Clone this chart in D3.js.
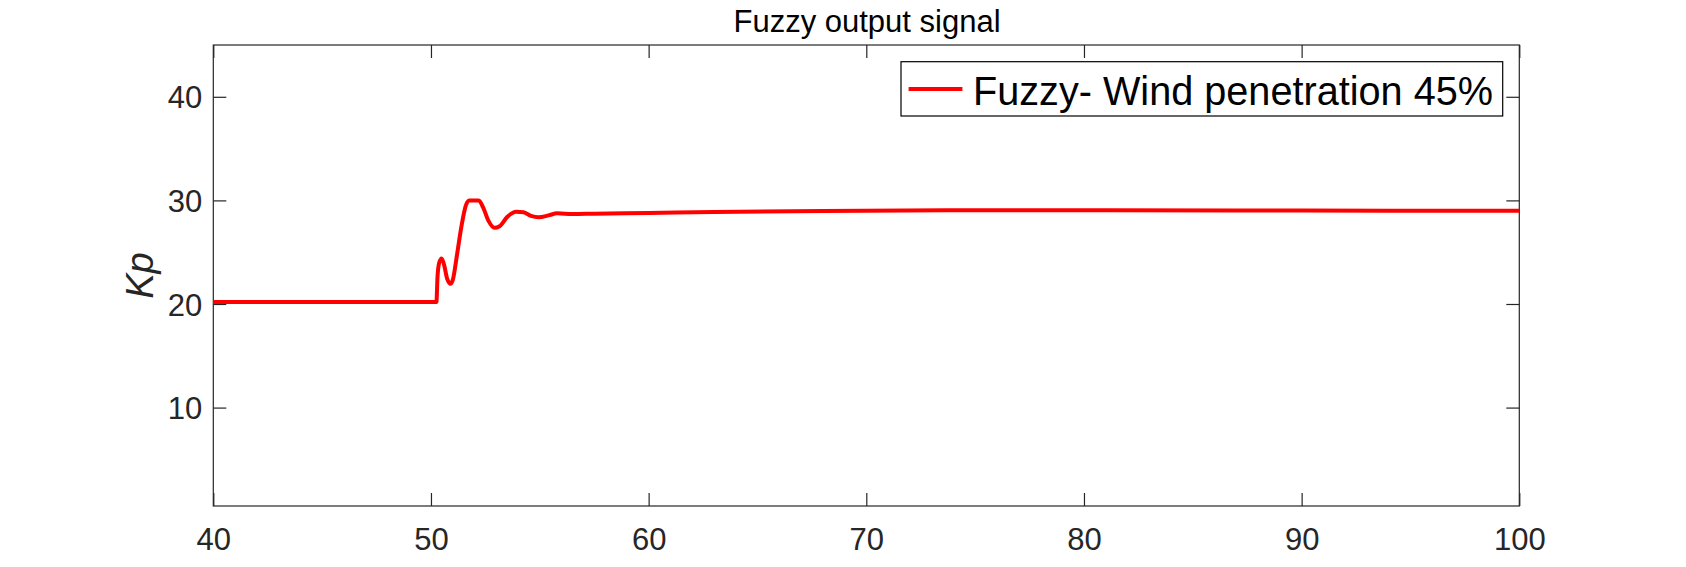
<!DOCTYPE html>
<html>
<head>
<meta charset="utf-8">
<script src="https://cdn.jsdelivr.net/npm/d3@7/dist/d3.min.js"></script>
<style>
  html, body { margin: 0; padding: 0; background: #fff; }
  svg { display: block; }
  text { font-family: "Liberation Sans", Arial, Helvetica, sans-serif; }
</style>
</head>
<body>
<svg id="chart" width="1686" height="567"></svg>
<script>
// ---- data ----
const timeValues = [40, 50.25, 50.3, 50.38, 50.49, 50.6, 50.75, 50.9, 51.0, 51.2, 51.4, 51.6, 51.75, 52.2, 52.4, 52.65, 52.92, 53.15, 53.5, 53.92, 54.25, 54.6, 54.95, 55.4, 55.8, 56.5, 57.5, 60, 63, 68, 75, 81, 87, 94, 100];
const kpValues   = [20.2, 20.2, 22.6, 24.0, 24.4, 23.8, 22.4, 21.95, 22.3, 24.8, 27.5, 29.5, 30.0, 30.0, 29.3, 28.0, 27.35, 27.5, 28.4, 28.9, 28.85, 28.5, 28.37, 28.55, 28.75, 28.68, 28.72, 28.78, 28.88, 28.98, 29.05, 29.05, 29.03, 29.01, 29.0];
const xTicks = [40, 50, 60, 70, 80, 90, 100];
const yTicks = [10, 20, 30, 40];
const xDomain = [40, 100];
const yDomain = [0.5, 45];
const seriesName = "Fuzzy- Wind penetration 45%";
const titleText = "Fuzzy output signal";
const yLabel = "Kp";

// ---- layout ----
const L = 213.3, R = 1519.3, T = 45, B = 506;
const axisColor = "#262626";
const svg = d3.select("#chart");

const x = d3.scaleLinear().domain(xDomain).range([L, R]);
const y = d3.scaleLinear().domain(yDomain).range([B, T]);

// box
svg.append("rect").attr("x", L).attr("y", T).attr("width", R - L).attr("height", B - T)
  .attr("fill", "#fff").attr("stroke", axisColor).attr("stroke-width", 1.2);

const tickLen = 13;
const gxb = svg.append("g").attr("transform", `translate(0,${B})`)
  .call(d3.axisBottom(x).tickValues(xTicks).tickSizeInner(-tickLen).tickSizeOuter(0).tickPadding(22));
const gxt = svg.append("g").attr("transform", `translate(0,${T})`)
  .call(d3.axisTop(x).tickValues(xTicks).tickSizeInner(-tickLen).tickSizeOuter(0).tickFormat(""));
const gyl = svg.append("g").attr("transform", `translate(${L},0)`)
  .call(d3.axisLeft(y).tickValues(yTicks).tickSizeInner(-tickLen).tickSizeOuter(0).tickPadding(11));
const gyr = svg.append("g").attr("transform", `translate(${R},0)`)
  .call(d3.axisRight(y).tickValues(yTicks).tickSizeInner(-tickLen).tickSizeOuter(0).tickFormat(""));

[gxb, gxt, gyl, gyr].forEach(g => {
  g.select(".domain").remove();
  g.selectAll(".tick line").attr("stroke", axisColor).attr("stroke-width", 1.2);
  g.selectAll(".tick text").attr("fill", axisColor)
    .style("font-size", "31px").style("font-family", '"Liberation Sans", Arial, sans-serif');
});
gxb.selectAll(".tick text").attr("dy", "0.71em");
gyl.selectAll(".tick text").attr("dy", "0.36em");

// line
const line = d3.line()
  .x((d, i) => x(timeValues[i]))
  .y(d => y(d))
  .curve(d3.curveMonotoneX);
svg.append("path").datum(kpValues)
  .attr("d", line).attr("fill", "none")
  .attr("stroke", "#ff0000").attr("stroke-width", 4).attr("stroke-linejoin", "round");

// title
svg.append("text").attr("x", 867).attr("y", 32).attr("text-anchor", "middle")
  .style("font-size", "31px").attr("fill", "#000").text(titleText);

// y label
svg.append("text").attr("transform", "translate(153,275.5) rotate(-90)")
  .attr("text-anchor", "middle").style("font-size", "38px").style("font-style", "italic")
  .attr("fill", axisColor).text(yLabel);

// legend
const lg = svg.append("g");
lg.append("rect").attr("x", 901).attr("y", 61.7).attr("width", 601.7).attr("height", 54.3)
  .attr("fill", "#fff").attr("stroke", "#000").attr("stroke-width", 1.2);
lg.append("line").attr("x1", 908.6).attr("x2", 962.4).attr("y1", 89).attr("y2", 89)
  .attr("stroke", "#ff0000").attr("stroke-width", 4);
lg.append("text").attr("x", 973).attr("y", 105)
  .attr("textLength", 520).attr("lengthAdjust", "spacingAndGlyphs")
  .style("font-size", "41px").attr("fill", "#000").text(seriesName);
</script>
</body>
</html>
